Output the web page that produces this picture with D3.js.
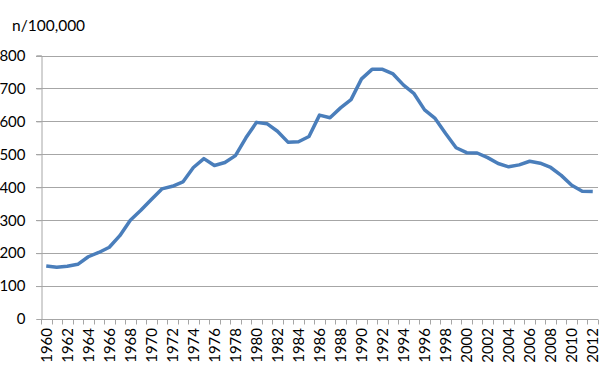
<!DOCTYPE html>
<html>
<head>
<meta charset="utf-8">
<script src="https://cdn.jsdelivr.net/npm/d3@7"></script>
<style>
  body { margin: 0; background: #fff; }
  text { font-family: Lato, "Open Sans", sans-serif; fill: #000; }
</style>
</head>
<body>
<div id="chart"></div>
<script>
// years on the category axis
const years = d3.range(1960, 2013);
// rate per 100,000
const rates = [
  161, 157, 160, 166, 189, 202, 218, 253, 300, 330,
  363, 395, 403, 416, 460, 487, 466, 475, 496, 550,
  597, 593, 570, 537, 538, 554, 619, 611, 641, 666,
  729, 758, 758, 744, 710, 684, 635, 609, 563, 520,
  505, 504, 490, 472, 462, 468, 479, 473, 460, 436,
  406, 388, 387
];
const yTicks = [0, 100, 200, 300, 400, 500, 600, 700, 800];
const yTitle = 'n/100,000';

const width = 600, height = 374;
const margin = {top: 55.5, right: 2, bottom: 55, left: 41};

const svg = d3.select('#chart').append('svg')
    .attr('width', width)
    .attr('height', height);

const x = d3.scaleBand()
    .domain(years)
    .range([margin.left, width - margin.right]);

const y = d3.scaleLinear()
    .domain([0, 800])
    .range([height - margin.bottom, margin.top]);

// gridlines, with the short ticks to the left of the axis
svg.append('g')
    .selectAll('line')
    .data(yTicks.filter(d => d > 0))
    .join('line')
    .attr('x1', margin.left - 5)
    .attr('x2', width - margin.right)
    .attr('y1', d => Math.round(y(d)) + 0.5)
    .attr('y2', d => Math.round(y(d)) + 0.5)
    .attr('stroke', '#a6a6a6')
    .attr('stroke-width', 1);

// y axis
const yAxis = svg.append('g')
    .attr('transform', `translate(${margin.left + 0.5},0)`)
    .call(d3.axisLeft(y).tickValues(yTicks).tickSize(5).tickPadding(11).tickFormat(d3.format('d')));
yAxis.select('.domain').attr('stroke', '#a6a6a6');
yAxis.selectAll('.tick line').attr('stroke', '#a6a6a6');
yAxis.selectAll('.tick text')
    .style('font-size', '15px');

// x axis: ticks between categories, labels every second year
const xAxis = svg.append('g')
    .attr('transform', `translate(0,${Math.round(y(0)) + 0.5})`);
xAxis.append('line')
    .attr('x1', margin.left)
    .attr('x2', width - margin.right)
    .attr('stroke', '#a6a6a6');
xAxis.selectAll('line.tk')
    .data(years.concat([2013]))
    .join('line')
    .attr('class', 'tk')
    .attr('x1', d => Math.round(d === 2013 ? x.range()[1] : x(d)) + 0.5)
    .attr('x2', d => Math.round(d === 2013 ? x.range()[1] : x(d)) + 0.5)
    .attr('y1', 0)
    .attr('y2', 5)
    .attr('stroke', '#a6a6a6');
xAxis.selectAll('text')
    .data(years.filter(d => d % 2 === 0))
    .join('text')
    .attr('transform', d => `translate(${x(d) + x.bandwidth() / 2 + 5.5},8.5) rotate(-90)`)
    .attr('text-anchor', 'end')
    .style('font-size', '15px')
    .text(d => d);

// title of the value axis
svg.append('text')
    .attr('x', 12)
    .attr('y', 31)
    .style('font-size', '15.5px')
    .text(yTitle);

// the series
const line = d3.line()
    .x((d, i) => x(years[i]) + x.bandwidth() / 2)
    .y(d => y(d));

svg.append('path')
    .datum(rates)
    .attr('d', line)
    .attr('fill', 'none')
    .attr('stroke', '#4a7ebb')
    .attr('stroke-width', 3.5)
    .attr('stroke-linejoin', 'round');
</script>
</body>
</html>
